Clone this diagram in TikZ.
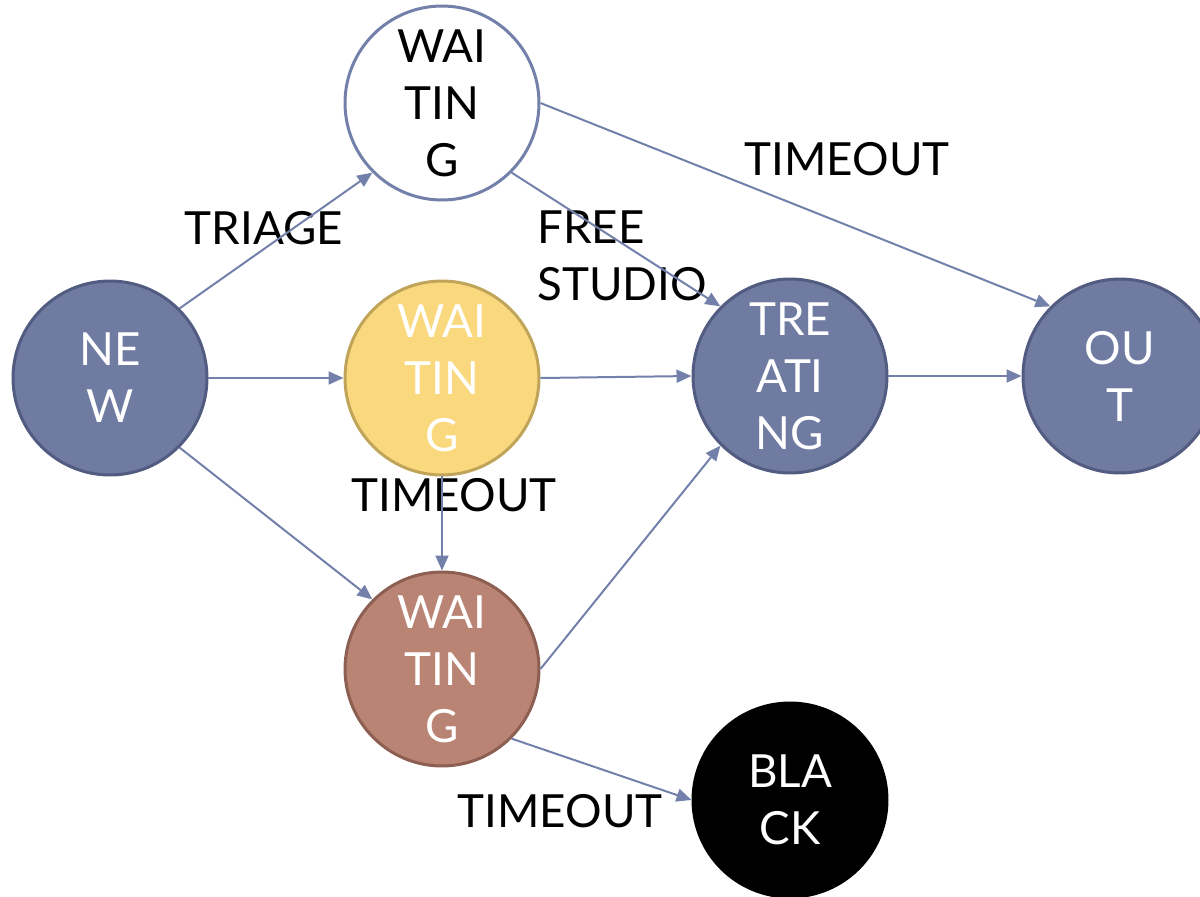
\documentclass[tikz,border=0pt]{standalone}
\usepackage{fontspec}
\setmainfont{Lato}
\usetikzlibrary{arrows.meta}
\definecolor{slate}{RGB}{111,123,161}
\definecolor{slateline}{RGB}{82,92,128}
\definecolor{linkcol}{RGB}{115,128,170}
\definecolor{sand}{RGB}{249,216,126}
\definecolor{sandline}{RGB}{192,164,90}
\definecolor{clay}{RGB}{185,132,115}
\definecolor{clayline}{RGB}{140,95,82}
\newcommand{\statefont}{\fontsize{26}{32.4}\selectfont}
\tikzstyle{state} = [circle, draw=slateline, fill=slate, text=white,
    line width=0.06cm, minimum size=3.88cm, inner sep=0pt, align=center, font=\statefont]
\tikzstyle{sandstate} = [state, draw=sandline, fill=sand]
\tikzstyle{claystate} = [state, draw=clayline, fill=clay]
\tikzstyle{lbl} = [font=\statefont, inner sep=0pt, text=black]
\tikzstyle{link} = [draw=linkcol, line width=0.04cm]

\begin{document}
\begin{tikzpicture}[x=0.02cm,y=-0.02cm,->,>={Triangle[length=0.3cm,width=0.26cm]},
                    every edge/.style=link]
  \useasboundingbox (0,0) rectangle (1200,896);

  \node[state]                                  (new)   at (110,378)  {NE\\W};
  \node[state,fill=white,draw=linkcol,text=black] (waitw) at (442,103)  {WAI\\TIN\\G};
  \node[sandstate]                              (waity) at (442,378)  {WAI\\TIN\\G};
  \node[claystate]                              (waitb) at (442,669)  {WAI\\TIN\\G};
  \node[state]                                  (treat) at (790,376)  {TRE\\ATI\\NG};
  \node[state]                                  (out)   at (1120,376) {OU\\T};
  \node[state,fill=black,draw=black]            (black) at (790,800)  {BLA\\CK};

  \node[lbl]                       (triage) at (264,228) {TRIAGE};
  \node[lbl]                       (tmtop)  at (847,159) {TIMEOUT};
  \node[lbl,anchor=west,align=left] (free)  at (537,256) {FREE\\STUDIO};
  \node[lbl]                       (tmmid)  at (454,495) {TIMEOUT};
  \node[lbl]                       (tmbot)  at (560,811) {TIMEOUT};

  \path (new.45)     edge (waitw.225)
        (new.east)   edge (waity.west)
        (new.-45)    edge (waitb.135)
        (waitw.-45)  edge (treat.135)
        (waitw.east) edge (out.135)
        (waity.east) edge (treat.west)
        (waity.south) edge (waitb.north)
        (waitb.east) edge (treat.225)
        (waitb.-45)  edge (black.west)
        (treat.east) edge (out.west);
\end{tikzpicture}
\end{document}
